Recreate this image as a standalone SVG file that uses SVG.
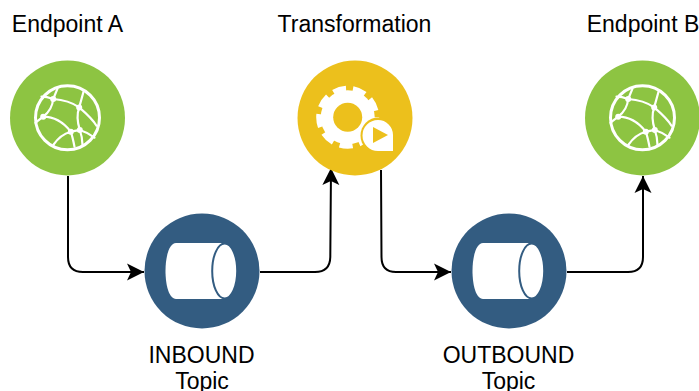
<svg xmlns="http://www.w3.org/2000/svg" width="699" height="391" viewBox="0 0 699 391">
<style>
text{font-family:"Liberation Sans",Arial,sans-serif;font-size:23px;fill:#000;text-anchor:middle}
.g{fill:#8dc442}.y{fill:#ecc01c}.b{fill:#335c81}
.c{fill:none;stroke:#000;stroke-width:2}
.w{fill:none;stroke:#fff;stroke-width:2.2;stroke-linecap:round}
.d{fill:#fff}
</style>
<defs>
<marker id="a" markerUnits="userSpaceOnUse" markerWidth="18" markerHeight="18" refX="17" refY="9" orient="auto"><path d="M0 .5L17 9L0 17.500L4 9Z" fill="#000"/></marker>
<g id="globe">
<circle r="32" class="w" style="stroke-width:3"/>
<path class="w" d="M-14.300-18.700L-10-29M-14.300-18.700C-18-20-22-21-26-21M-14.300-18.700C-15-11-19-5-24.300-1M-14.300-18.700C-4-18 5-15 11.700-10.300C19-4 26 3 29 8M11.700-10.300L16-26M11.700-10.300C9-3 10 5 12.300 12.300M-24.300-1C-12-1-3 6 3.300 14L12.300 12.300C18 14 23 17 27 20M-24.300-1L-32 5M3.300 14C-4 16-10 21-14 27M3.300 14C5 19 6 24 7 29M12.300 12.300C14 17 15 22 15 27"/>
<circle cx="-14.300" cy="-18.700" r="3" class="d"/><circle cx="11.700" cy="-10.300" r="3" class="d"/><circle cx="-24.300" cy="-1" r="3" class="d"/><circle cx="3.300" cy="14" r="3" class="d"/><circle cx="12.300" cy="12.300" r="3" class="d"/>
</g>
<g id="topic">
<path class="d" d="M-26-28H22V28H-26C-40 28-40-28-26-28Z"/>
<ellipse cx="22.700" cy="0" rx="12.500" ry="27.500" fill="#fff" stroke="#335c81" stroke-width="2"/>
</g>
</defs>
<g id="connectors">
<path class="c" marker-end="url(#a)" d="M68 176V257Q68 272 83 272H144"/>
<path class="c" marker-end="url(#a)" d="M260 272H315Q330 272 330.300 257L331 168"/>
<path class="c" marker-end="url(#a)" d="M381 170L381.500 257Q381.500 272 396 272H451"/>
<path class="c" marker-end="url(#a)" d="M567 272H628Q643 272 643 257V176"/>
</g>
<g id="endpoint-a"><circle cx="67.500" cy="118" r="57.500" class="g"/><use href="#globe" x="67.500" y="117.700"/><text x="67.500" y="32">Endpoint A</text></g>
<g id="transformation"><circle cx="355" cy="118" r="57.500" class="y"/>
<g transform="translate(347.700 117.300)">
<circle r="27" class="d"/>
<circle r="28.500" fill="none" stroke="#fff" stroke-width="6" stroke-dasharray="13 6.900"/>
<circle r="14.500" fill="#ecc01c"/>
</g>
<circle cx="378.500" cy="135.500" r="18" fill="#ecc01c"/>
<path class="d" fill-rule="evenodd" d="M378 120A15 15 0 0 1 393 135V151H378A15.500 15.500 0 0 1 378 120Z M373 127V143L388 135Z"/>
<text x="354.500" y="32">Transformation</text></g>
<g id="endpoint-b"><circle cx="642.500" cy="118" r="57.500" class="g"/><use href="#globe" x="642.500" y="117.700"/><text x="643" y="32">Endpoint B</text></g>
<g id="inbound"><circle cx="202" cy="271" r="57.500" class="b"/><use href="#topic" x="202" y="271"/><text x="201.500" y="362.500">INBOUND</text><text x="202" y="389">Topic</text></g>
<g id="outbound"><circle cx="509" cy="271" r="57.500" class="b"/><use href="#topic" x="509" y="271"/><text x="508.500" y="362.500">OUTBOUND</text><text x="508.500" y="389">Topic</text></g>
</svg>
